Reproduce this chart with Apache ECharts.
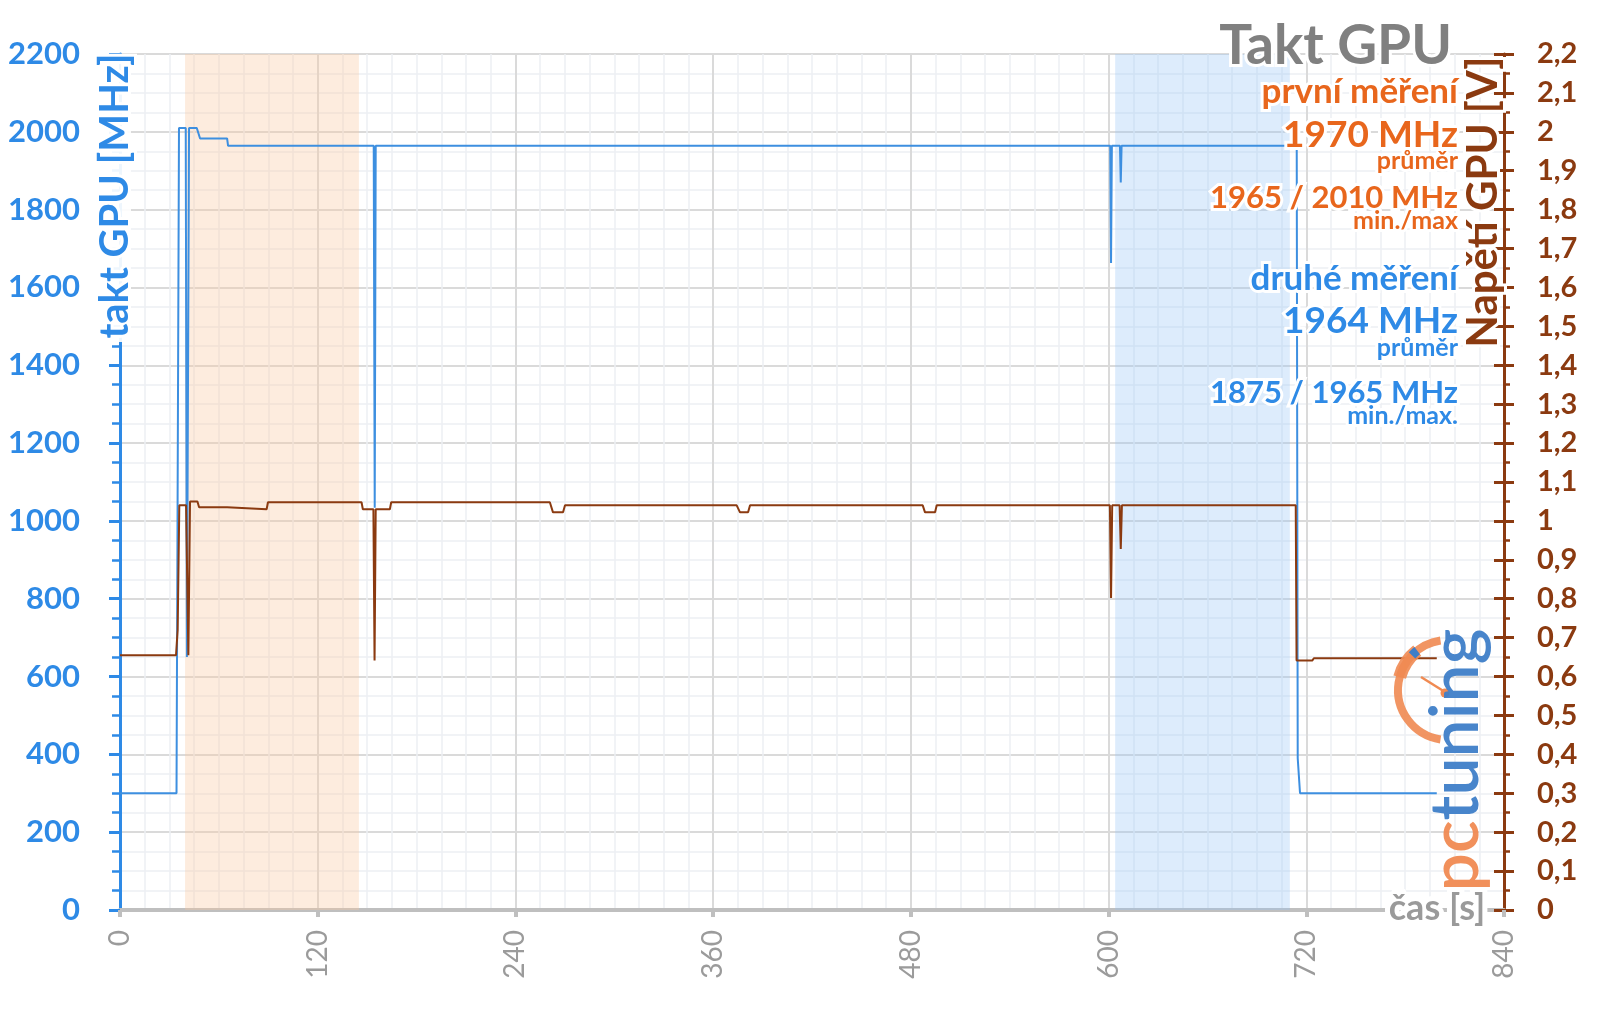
<!DOCTYPE html>
<html><head><meta charset="utf-8">
<script src="https://cdn.jsdelivr.net/npm/echarts@6/dist/echarts.min.js"></script>
<style>html,body{margin:0;padding:0;background:#fff}#c{width:1600px;height:1009px}</style>
</head><body><div id="c"></div>
<script>
// ---- data ----
const clockTime = [0, 34.3, 35.8, 39.9, 40.6, 41.2, 41.9, 46.6, 48.6, 65.0, 65.6, 154.0, 154.6, 155.2, 601.0, 601.5, 602.0, 606.9, 607.4, 607.9, 714.2, 714.8, 716.2, 799.2];
const clockMHz  = [300, 300, 2010, 2010, 650, 650, 2010, 2010, 1983, 1983, 1964, 1964, 1034, 1964, 1964, 1663, 1964, 1964, 1870, 1964, 1964, 390, 300, 300];

const voltTime = [0, 34.0, 35.0, 36.0, 40.1, 41.5, 42.5, 43.5, 47.0, 48.0, 65.0, 65.8, 89.0, 89.8, 146.6, 147.4, 153.8, 154.5, 155.2, 163.8, 164.6, 260.9, 262.8, 268.9, 270.1, 374.3, 376.3, 381.2, 382.4, 487.2, 488.6, 494.7, 495.7, 600.8, 601.5, 602.2, 606.7, 607.4, 608.1, 713.6, 714.1, 723.6, 724.6, 799.2];
const voltV    = [0.655, 0.655, 0.72, 1.04, 1.04, 0.655, 1.05, 1.05, 1.05, 1.035, 1.035, 1.03, 1.03, 1.048, 1.048, 1.03, 1.03, 0.641, 1.03, 1.03, 1.048, 1.048, 1.022, 1.022, 1.04, 1.04, 1.022, 1.022, 1.04, 1.04, 1.022, 1.022, 1.04, 1.04, 0.802, 1.04, 1.04, 0.928, 1.04, 1.04, 0.641, 0.641, 0.647, 0.647];

const bandOrange = [39.5, 145];
const bandBlue   = [604, 710];

const timeTicks = [0, 120, 240, 360, 480, 600, 720, 840];
const mhzTicks  = [0, 200, 400, 600, 800, 1000, 1200, 1400, 1600, 1800, 2000, 2200];
const voltTicks = [0, 0.1, 0.2, 0.3, 0.4, 0.5, 0.6, 0.7, 0.8, 0.9, 1, 1.1, 1.2, 1.3, 1.4, 1.5, 1.6, 1.7, 1.8, 1.9, 2, 2.1, 2.2];

const titleText = 'Takt GPU';
const run1 = ['první měření', '1970 MHz', 'průměr', '1965 / 2010 MHz', 'min./max'];
const run2 = ['druhé měření', '1964 MHz', 'průměr', '1875 / 1965 MHz', 'min./max.'];

// ---- styles ----
const BLUE = '#2E8AE6', LINEBLUE = '#3D8FE0', BROWN = '#8B3A10', ORANGE = '#E8661C', GRAY = '#9B9B9B';
const FONT = 'Lato';
const chart = echarts.init(document.getElementById('c'), null, {renderer: 'canvas'});

// text with a white halo: halo copy below, fill copy on top
function txt(text, x, y, size, color, opts) {
  opts = opts || {};
  const align = opts.align || 'right';
  const rot = opts.rotation || 0;
  const halo = opts.halo || 6;
  const base = {type: 'text', x: x, y: y, rotation: rot};
  return [
    Object.assign({}, base, {z: 99, style: {text: text, fill: '#fff', stroke: '#fff', lineWidth: halo,
      font: 'bold ' + size + 'px ' + FONT, align: align, verticalAlign: 'middle'}}),
    Object.assign({}, base, {z: 100, style: {text: text, fill: color,
      font: 'bold ' + size + 'px ' + FONT, align: align, verticalAlign: 'middle'}})
  ];
}

const RX = 1458;
const graphics = [].concat(
  [{type: 'rect', z: 98, shape: {x: 101, y: 62, width: 30, height: 280}, style: {fill: 'rgba(255,255,255,0.92)'}}],
  txt(titleText, 1452, 46, 55, '#808080'),
  txt(run1[0], RX, 92, 35, ORANGE),
  txt(run1[1], RX, 135, 37, ORANGE),
  txt(run1[2], RX, 161, 25, ORANGE),
  txt(run1[3], RX, 198, 31, ORANGE),
  txt(run1[4], RX, 221, 25, ORANGE),
  txt(run2[0], RX, 279, 35, BLUE),
  txt(run2[1], RX, 321, 37, BLUE),
  txt(run2[2], RX, 348, 25, BLUE),
  txt(run2[3], RX, 393, 31, BLUE),
  txt(run2[4], RX, 416, 25, BLUE),
  txt('takt GPU [MHz]', 115, 196, 40, BLUE, {align: 'center', rotation: Math.PI / 2}),
  txt('Napětí GPU [V]', 1483, 202, 42, BROWN, {align: 'center', rotation: Math.PI / 2}),
  txt('čas [s]', 1437, 908, 36, '#9A9A9A', {align: 'center', halo: 10}),
  [
    // logo: clock
    {type: 'arc', z: 90, shape: {cx: 1448, cy: 690, r: 50, startAngle: 98.6 * Math.PI / 180, endAngle: 261.4 * Math.PI / 180, clockwise: true},
      style: {stroke: '#F08A52', lineWidth: 8, fill: null, opacity: 0.9}},
    {type: 'arc', z: 91, shape: {cx: 1448, cy: 690, r: 50, startAngle: 195 * Math.PI / 180, endAngle: 232 * Math.PI / 180, clockwise: true},
      style: {stroke: '#F08A52', lineWidth: 13, fill: null, opacity: 0.9}},
    {type: 'arc', z: 92, shape: {cx: 1448, cy: 690, r: 50, startAngle: 224 * Math.PI / 180, endAngle: 232 * Math.PI / 180, clockwise: true},
      style: {stroke: '#3E7EC8', lineWidth: 9, fill: null}},
    {type: 'line', z: 92, shape: {x1: 1445, y1: 692, x2: 1421, y2: 677}, style: {stroke: '#F08A52', lineWidth: 2.5}},
    {type: 'circle', z: 92, shape: {cx: 1445, cy: 693, r: 4.5}, style: {fill: '#F08A52'}},
    // logo: text
    {type: 'text', z: 95, x: 1456, y: 760, rotation: Math.PI / 2,
      style: {text: '{a|pc}{b|tuning}', align: 'center', verticalAlign: 'middle', font: '600 68px ' + FONT,
        rich: {a: {fill: '#F08A52', font: '600 68px ' + FONT}, b: {fill: '#3E7EC8', font: '600 68px ' + FONT}}, opacity: 0.95}}
  ]
);

const fmtV = v => (Math.round(v * 10) / 10).toString().replace('.', ',');
const fmtN = v => String(Math.round(v));

const option = {
  backgroundColor: '#fff',
  animation: false,
  grid: {left: 120, right: 96, top: 54, bottom: 99, containLabel: false},
  xAxis: {
    type: 'value', min: timeTicks[0], max: timeTicks[timeTicks.length - 1], interval: timeTicks[1] - timeTicks[0],
    axisLine: {show: true, onZero: false, lineStyle: {color: '#BFBFBF', width: 4}},
    axisTick: {show: true, length: 7, lineStyle: {color: '#BFBFBF', width: 4}},
    axisLabel: {rotate: 90, margin: 20, color: GRAY, fontFamily: FONT, fontSize: 28, formatter: fmtN},
    splitLine: {show: true, lineStyle: {color: '#DADADA', width: 2}},
    minorTick: {show: false, splitNumber: 8},
    minorSplitLine: {show: true, lineStyle: {color: '#EDEFF3', width: 1.5}}
  },
  yAxis: [
    {
      type: 'value', position: 'left', min: mhzTicks[0], max: mhzTicks[mhzTicks.length - 1], interval: mhzTicks[1] - mhzTicks[0],
      axisLine: {show: true, lineStyle: {color: BLUE, width: 3}},
      axisTick: {show: true, length: 11, lineStyle: {color: BLUE, width: 3}},
      minorTick: {show: true, splitNumber: 4, length: 8, lineStyle: {color: BLUE, width: 2.5}},
      axisLabel: {margin: 40, color: BLUE, fontFamily: FONT, fontWeight: 'bold', fontSize: 31, formatter: fmtN},
      splitLine: {show: true, lineStyle: {color: '#DADADA', width: 2}},
      minorSplitLine: {show: true, lineStyle: {color: '#EDEFF3', width: 1.5}}
    },
    {
      type: 'value', position: 'right', min: voltTicks[0], max: voltTicks[voltTicks.length - 1], interval: 0.1,
      axisLine: {show: true, lineStyle: {color: BROWN, width: 3}},
      axisTick: {show: true, length: 10, lineStyle: {color: BROWN, width: 3}},
      minorTick: {show: true, splitNumber: 2, length: 6, lineStyle: {color: BROWN, width: 2.5}},
      axisLabel: {margin: 33, color: BROWN, fontFamily: FONT, fontWeight: 'bold', fontSize: 29, formatter: fmtV},
      splitLine: {show: false}
    },
    {
      type: 'value', position: 'right', min: voltTicks[0], max: voltTicks[voltTicks.length - 1], interval: 0.1,
      axisLine: {show: false},
      axisTick: {show: true, inside: true, length: 10, lineStyle: {color: BROWN, width: 3}},
      axisLabel: {show: false},
      splitLine: {show: false}
    }
  ],
  graphic: graphics,
  series: [
    {
      type: 'line', name: 'bands', data: [[0, 0]], symbol: 'none', lineStyle: {opacity: 0}, z: 1, silent: true,
      markArea: {silent: true, data: [
        [{xAxis: bandOrange[0], itemStyle: {color: 'rgba(250,200,160,0.35)'}}, {xAxis: bandOrange[1]}],
        [{xAxis: bandBlue[0], itemStyle: {color: 'rgba(150,195,245,0.32)'}}, {xAxis: bandBlue[1]}]
      ]}
    },
    {
      type: 'line', name: 'takt GPU', yAxisIndex: 0, z: 3,
      data: clockTime.map((t, i) => [t, clockMHz[i]]),
      symbol: 'none', lineStyle: {color: LINEBLUE, width: 2}
    },
    {
      type: 'line', name: 'Napětí GPU', yAxisIndex: 1, z: 4,
      data: voltTime.map((t, i) => [t, voltV[i]]),
      symbol: 'none', lineStyle: {color: BROWN, width: 2}
    }
  ]
};
chart.setOption(option);
</script>
</body></html>
